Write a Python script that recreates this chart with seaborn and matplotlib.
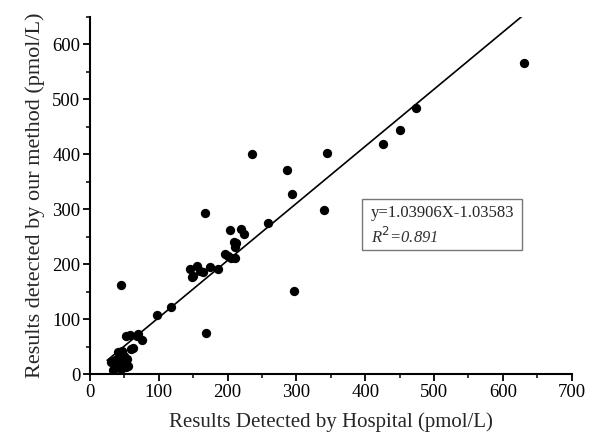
import numpy as np
import pandas as pd
import matplotlib
matplotlib.use("Agg")
import matplotlib.pyplot as plt
from matplotlib.ticker import MultipleLocator
from matplotlib.patches import Rectangle
import seaborn as sns

# Data (pmol/L)
hospital = [
    30, 34, 36, 39, 40, 42, 44, 45, 47, 48, 50, 52, 53, 54, 55, 58, 60, 63, 68, 70, 75,
    45, 98, 118, 145, 148, 150, 155, 160, 164, 167, 168, 175, 186, 196, 200, 203, 205,
    209, 210, 210, 212, 220, 224, 236, 259, 286, 293, 296, 340, 344, 426, 450, 474, 631,
]
our_method = [
    21, 7, 25, 13, 40, 30, 18, 10, 41, 25, 33, 12, 69, 28, 15, 71, 45, 47, 70, 72, 62,
    162, 107, 122, 192, 176, 178, 196, 188, 186, 293, 74, 194, 192, 218, 214, 263, 212,
    240, 232, 212, 239, 264, 255, 400, 275, 372, 327, 152, 299, 402, 418, 444, 485, 567,
]
slope = 1.03906
intercept = -1.03583
r2 = 0.891
line_x = [25, 630]

df = pd.DataFrame({"hospital": hospital, "method": our_method})
fit = pd.DataFrame({"x": line_x})
fit["y"] = slope * fit["x"] + intercept

sns.set_theme(style="ticks")
plt.rcParams["font.family"] = ["Liberation Serif", "DejaVu Serif"]

fig = plt.figure(figsize=(5.89, 4.47), dpi=100)
ax = fig.add_axes([0.1528, 0.1633, 0.8178, 0.7987])

sns.lineplot(data=fit, x="x", y="y", ax=ax, color="black", linewidth=1.2)
sns.scatterplot(data=df, x="hospital", y="method", ax=ax, color="black",
                s=45, edgecolor="black", linewidth=0, zorder=3)

ax.set_xlim(0, 700)
ax.set_ylim(0, 650)
ax.xaxis.set_major_locator(MultipleLocator(100))
ax.xaxis.set_minor_locator(MultipleLocator(50))
ax.yaxis.set_major_locator(MultipleLocator(100))
ax.yaxis.set_minor_locator(MultipleLocator(50))
ax.tick_params(which="major", direction="out", length=5, width=1.3, labelsize=13.5,
               colors="black", pad=2)
ax.tick_params(which="minor", direction="out", length=3, width=1.3)
for side in ["top", "right"]:
    ax.spines[side].set_visible(False)
for side in ["left", "bottom"]:
    ax.spines[side].set_linewidth(1.5)
    ax.spines[side].set_color("black")

ax.set_xlabel("Results Detected by Hospital (pmol/L)", fontsize=15, labelpad=8)
ax.set_ylabel("Results detected by our method (pmol/L)", fontsize=16, labelpad=5)

# equation box
ax.add_patch(Rectangle((0.565, 0.347), 0.332, 0.143, transform=ax.transAxes,
                       facecolor="white", edgecolor="#777777", linewidth=1.0, zorder=4))
ax.text(0.583, 0.452, "y=1.03906X-1.03583", transform=ax.transAxes,
        fontsize=12, va="center", ha="left", zorder=5)
ax.text(0.583, 0.385, f"R$^{{2}}$=" + f"{r2:.3f}", transform=ax.transAxes,
        fontsize=12, style="italic", va="center", ha="left", zorder=5,
        color="#333333")

fig.savefig("out.png", dpi=100)
